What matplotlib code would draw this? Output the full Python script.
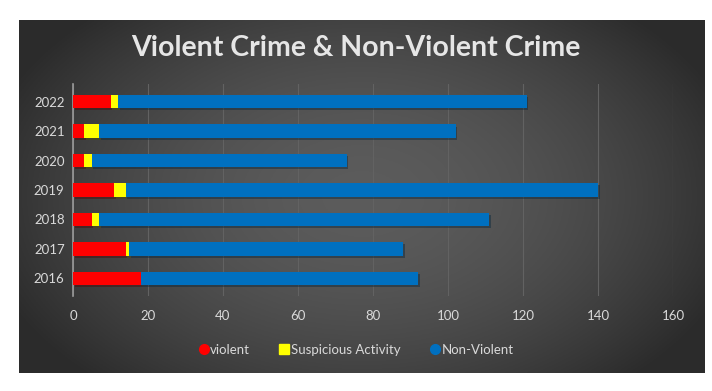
import matplotlib.pyplot as plt
import matplotlib.patheffects as pe
from matplotlib.lines import Line2D
import numpy as np

years = ["2016", "2017", "2018", "2019", "2020", "2021", "2022"]
violent = [18, 14, 5, 11, 3, 3, 10]
suspicious = [0, 1, 2, 3, 2, 4, 2]
non_violent = [74, 73, 104, 126, 68, 95, 109]

plt.rcParams["font.family"] = ["Lato", "DejaVu Sans"]

fig = plt.figure(figsize=(7.12, 3.91), dpi=100)
fig.patch.set_facecolor("white")

# dark panel with radial gradient
W, H = 712, 391
px0, py0, px1, py1 = 19, 20, 705, 373
bg = fig.add_axes([px0 / W, 1 - py1 / H, (px1 - px0) / W, (py1 - py0) / H])
gx, gy = np.meshgrid(np.linspace(-1, 1, 400), np.linspace(-1, 1, 200))
r = np.sqrt(gx ** 2 + (gy * 0.8) ** 2)
shade = np.clip(0.36 - 0.15 * r ** 1.8, 0.17, 0.4)
bg.imshow(np.dstack([shade, shade, shade]), aspect="auto", extent=[0, 1, 0, 1])
bg.set_axis_off()

# plot area
ax0, ax1 = 73, 673
ay0, ay1 = 84, 296
ax = fig.add_axes([ax0 / W, 1 - ay1 / H, (ax1 - ax0) / W, (ay1 - ay0) / H])
ax.set_facecolor("none")

y = np.arange(len(years))
h = 0.45
shadow = [pe.SimplePatchShadow(offset=(1.2, -1.5), alpha=0.4), pe.Normal()]
left2 = np.array(violent) + np.array(suspicious)
b1 = ax.barh(y, violent, height=h, color="#ff0000", zorder=3)
b2 = ax.barh(y, suspicious, left=violent, height=h, color="#ffff00", zorder=3)
b3 = ax.barh(y, non_violent, left=left2, height=h, color="#0070c0", zorder=3)
for bars in (b1, b2, b3):
    for p in bars:
        p.set_path_effects(shadow)

ax.set_xlim(0, 160)
ax.set_ylim(-0.6, len(years) - 0.4)
ax.set_xticks(range(0, 161, 20))
ax.set_yticks(y)
ax.set_yticklabels(years)
ax.grid(axis="x", color="#626262", linewidth=0.8, zorder=0)
ax.tick_params(axis="both", length=0, colors="#d9d9d9", labelsize=9.5)
ax.tick_params(axis="x", pad=10)
ax.tick_params(axis="y", pad=6)
for s in ["top", "right", "bottom"]:
    ax.spines[s].set_visible(False)
ax.spines["left"].set_color("#9a9a9a")
ax.spines["left"].set_linewidth(1.2)

fig.text(0.5, 1 - 48 / H, "Violent Crime & Non-Violent Crime", ha="center", va="center",
         color="#e6e6e6", fontsize=20.5, fontweight="bold")

handles = [
    Line2D([], [], marker="o", linestyle="none", color="#ff0000", markersize=7),
    Line2D([], [], marker="s", linestyle="none", color="#ffff00", markersize=7),
    Line2D([], [], marker="o", linestyle="none", color="#0070c0", markersize=7),
]
fig.legend(handles, ["violent", "Suspicious Activity", "Non-Violent"], loc="center",
           bbox_to_anchor=(0.5, 1 - 350 / H), ncol=3, frameon=False, fontsize=9.5,
           labelcolor="#d9d9d9", handletextpad=0.1, columnspacing=2.2, handlelength=0.8)

fig.savefig("out.png", dpi=100, facecolor="white")
